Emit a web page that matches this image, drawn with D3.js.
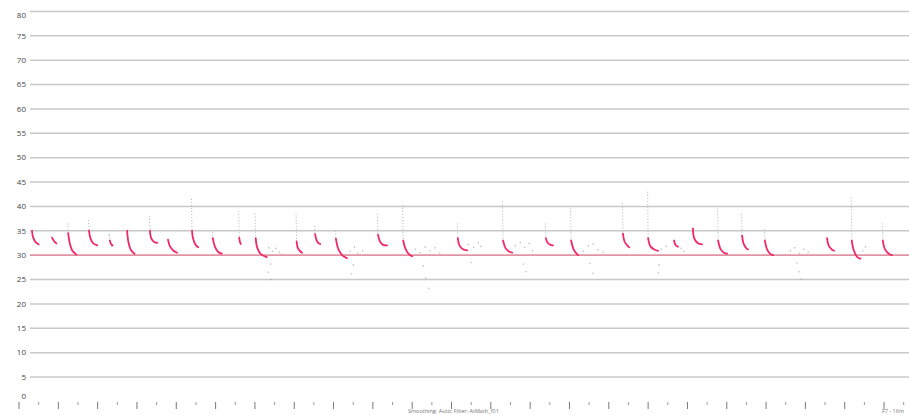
<!DOCTYPE html>
<html>
<head>
<meta charset="utf-8">
<script src="https://cdn.jsdelivr.net/npm/d3@7"></script>
<style>
  html, body { margin: 0; padding: 0; background: #fff; }
  svg { display: block; font-family: "Open Sans", "DejaVu Sans", sans-serif; }
</style>
</head>
<body>
<div id="container"></div>
<script>
// y ticks shown at the left edge
const yTicks = [0, 5, 10, 15, 20, 25, 30, 35, 40, 45, 50, 55, 60, 65, 70, 75, 80];

// reference level (red line)
const refLevel = 30;

// start of each burst on the time axis
const burstStart = [3.3, 8.4, 12.5, 17.8, 23.1, 27.5, 33.3, 37.9, 44.0, 49.3, 56.0, 60.2, 70.6, 75.3, 80.6, 91.3,
    97.7, 111.6, 123.1, 134.0, 140.4, 153.6, 160.0, 166.6, 171.4, 177.8, 183.9, 189.7, 205.5, 211.8, 219.7];

// faint grey tail above each burst (null = none)
const burstTop = [null, null, 36.5, 37.2, 34.2, null, 38.0, null, 41.5, 34.8, 39.0, 38.5, 38.5, 36.0, 35.0, 38.5,
    40.3, 36.5, 41.0, 36.5, 39.6, 40.6, 43.0, null, null, 39.6, 38.5, 35.3, null, 41.8, 36.5];

// red decay curves, one list of [time, value] per burst
const burstPoints = [
    [[3.3, 35.0], [3.6, 33.6], [4.3, 32.6], [5.0, 32.2]],
    [[8.4, 33.6], [8.9, 32.9], [9.5, 32.4]],
    [[12.5, 34.5], [12.9, 32.5], [13.5, 31.0], [14.6, 30.1]],
    [[17.8, 35.0], [18.2, 33.4], [18.9, 32.4], [19.9, 32.0]],
    [[23.1, 33.0], [23.4, 32.3], [23.8, 32.0]],
    [[27.5, 35.0], [27.8, 32.8], [28.5, 31.0], [29.4, 30.3]],
    [[33.3, 35.0], [33.6, 33.5], [34.4, 32.7], [35.2, 32.5]],
    [[37.9, 33.2], [38.4, 31.8], [39.3, 30.9], [40.2, 30.5]],
    [[44.0, 35.0], [44.3, 33.3], [45.0, 32.0], [45.6, 31.6]],
    [[49.3, 33.5], [49.8, 31.8], [50.6, 30.7], [51.6, 30.3]],
    [[56.0, 33.6], [56.2, 32.7], [56.4, 32.3]],
    [[60.2, 33.5], [60.6, 31.5], [61.5, 30.2], [63.0, 29.6]],
    [[70.6, 32.8], [70.9, 31.5], [71.5, 30.8], [72.0, 30.5]],
    [[75.3, 34.3], [75.7, 33.0], [76.3, 32.4], [76.6, 32.3]],
    [[80.6, 33.4], [81.2, 31.3], [82.3, 29.9], [83.4, 29.4]],
    [[91.3, 34.2], [91.8, 32.8], [92.6, 32.1], [93.6, 32.0]],
    [[97.7, 33.0], [98.3, 31.3], [99.3, 30.1], [100.0, 29.8]],
    [[111.6, 33.5], [112.0, 32.0], [112.9, 31.2], [114.0, 31.0]],
    [[123.1, 33.0], [123.7, 31.5], [124.5, 30.8], [125.4, 30.5]],
    [[134.0, 33.5], [134.4, 32.6], [135.2, 32.1], [135.8, 32.0]],
    [[140.4, 33.0], [141.0, 31.3], [141.8, 30.3], [142.2, 30.0]],
    [[153.6, 34.4], [154.0, 32.8], [154.8, 31.9], [155.2, 31.6]],
    [[160.0, 33.5], [160.6, 31.8], [161.7, 31.1], [162.5, 30.9]],
    [[166.6, 33.0], [166.9, 32.2], [167.6, 31.7]],
    [[171.4, 35.5], [171.7, 33.5], [172.6, 32.5], [173.7, 32.2]],
    [[177.8, 33.0], [178.4, 31.3], [179.3, 30.5], [180.1, 30.3]],
    [[183.9, 34.0], [184.3, 32.3], [185.0, 31.4], [185.4, 31.2]],
    [[189.7, 33.0], [190.2, 31.3], [191.0, 30.3], [191.8, 30.0]],
    [[205.5, 33.5], [205.9, 32.0], [206.8, 31.1], [207.3, 30.9]],
    [[211.8, 33.0], [212.3, 31.0], [213.2, 29.6], [214.0, 29.3]],
    [[219.7, 33.0], [220.2, 31.3], [221.2, 30.3], [222.0, 30.0]]
];

// faint grey scatter left after some bursts
const scatterPoints = [
    [22.9, 34.2], [23.6, 31.8],
    [63.5, 31.5], [64.5, 30.8], [65.3, 31.4], [66.2, 30.6], [64.0, 28.2], [63.4, 26.5], [64.1, 25.0], [66.8, 30.2],
    [84.2, 30.8], [85.3, 31.6], [86.2, 30.4], [87.4, 30.9], [85.0, 28.0], [84.6, 26.2],
    [100.8, 31.2], [102.0, 30.5], [103.3, 31.6], [104.5, 30.9], [105.8, 31.5], [107.0, 30.4], [102.8, 27.8], [103.4, 25.3], [104.2, 23.2],
    [114.3, 32.2], [115.6, 31.6], [116.8, 32.5], [117.5, 31.8], [115.0, 28.5],
    [126.2, 31.9], [127.5, 32.6], [128.6, 31.6], [129.7, 32.4], [130.6, 30.9], [128.3, 28.2], [128.9, 26.6],
    [143.5, 30.8], [144.8, 31.9], [146.0, 32.3], [147.2, 31.1], [148.6, 30.6], [145.2, 28.3], [146.0, 26.3],
    [163.4, 31.2], [164.6, 31.8], [162.8, 28.0], [162.6, 26.4], [168.4, 31.4], [169.1, 30.8],
    [196.2, 30.9], [197.3, 31.5], [198.5, 30.4], [199.6, 31.2], [200.7, 30.6], [197.8, 28.4], [198.4, 26.6], [199.0, 25.1],
    [214.6, 30.9], [215.3, 31.7]
];

// bottom axis ticks (major every 10, minor every 5)
const xMajorTicks = d3.range(0, 230, 10);
const xMinorTicks = d3.range(5, 230, 10);

const footerText = "Smoothing: Auto; Filter: AtMath_f01";
const cornerText = "F7 - 16m";

const width = 909;
const height = 415;

const scaleX = d3.scaleLinear().domain([0, 230]).range([19, 19 + 230 * 3.932]);
// 80 at the top, 0 at the bottom
const scaleY = d3.scaleLinear().domain([0, 80]).range([401.4, 11.4]);

const svg = d3.select("#container")
    .append("svg")
    .attr("width", width)
    .attr("height", height);

// gridlines
svg.append("g")
    .selectAll("line")
    .data(yTicks.filter(d => d > 0))
    .join("line")
    .attr("x1", 30)
    .attr("x2", width)
    .attr("y1", d => scaleY(d))
    .attr("y2", d => scaleY(d))
    .attr("stroke", "#c8c8c8")
    .attr("stroke-width", 1.5);

// y labels, clamped inside the picture at both ends
svg.append("g")
    .selectAll("text")
    .data(yTicks)
    .join("text")
    .attr("x", 26)
    .attr("y", d => Math.min(Math.max(scaleY(d), 15), 396))
    .attr("dy", "0.35em")
    .attr("text-anchor", "end")
    .attr("font-size", 8)
    .attr("fill", "#444")
    .text(d => d);

// reference line
svg.append("line")
    .attr("x1", 30)
    .attr("x2", width)
    .attr("y1", scaleY(refLevel))
    .attr("y2", scaleY(refLevel))
    .attr("stroke", "#ec8096")
    .attr("stroke-width", 1.4);

// grey tails above the bursts
svg.append("g")
    .selectAll("line")
    .data(burstStart.map((x, i) => ({x: x, top: burstTop[i], start: burstPoints[i][0][1]})).filter(d => d.top !== null))
    .join("line")
    .attr("x1", d => scaleX(d.x) - 0.5)
    .attr("x2", d => scaleX(d.x))
    .attr("y1", d => scaleY(d.top))
    .attr("y2", d => scaleY(d.start))
    .attr("stroke", "#b4b4b4")
    .attr("stroke-width", 1)
    .attr("stroke-dasharray", "1,2");

// grey scatter
svg.append("g")
    .selectAll("circle")
    .data(scatterPoints)
    .join("circle")
    .attr("cx", d => scaleX(d[0]))
    .attr("cy", d => scaleY(d[1]))
    .attr("r", 0.8)
    .attr("fill", "#a0a0a0")
    .attr("opacity", 0.7);

// red decay curves
const line = d3.line()
    .x(d => scaleX(d[0]))
    .y(d => scaleY(d[1]))
    .curve(d3.curveCatmullRom);

svg.append("g")
    .selectAll("path")
    .data(burstPoints)
    .join("path")
    .attr("d", line)
    .attr("fill", "none")
    .attr("stroke", "#f0286a")
    .attr("stroke-width", 1.8)
    .attr("stroke-linecap", "round");

// bottom ticks
const ticks = svg.append("g");
ticks.selectAll("line.major")
    .data(xMajorTicks)
    .join("line")
    .attr("class", "major")
    .attr("x1", d => scaleX(d))
    .attr("x2", d => scaleX(d))
    .attr("y1", 402)
    .attr("y2", 409)
    .attr("stroke", "#777")
    .attr("stroke-width", 1);
ticks.selectAll("line.minor")
    .data(xMinorTicks)
    .join("line")
    .attr("class", "minor")
    .attr("x1", d => scaleX(d))
    .attr("x2", d => scaleX(d))
    .attr("y1", 402)
    .attr("y2", 405)
    .attr("stroke", "#999")
    .attr("stroke-width", 1);

svg.append("text")
    .attr("x", 408)
    .attr("y", 413)
    .attr("font-size", 5.5)
    .attr("fill", "#777")
    .text(footerText);

svg.append("text")
    .attr("x", 882)
    .attr("y", 413)
    .attr("font-size", 5.5)
    .attr("fill", "#777")
    .text(cornerText);
</script>
</body>
</html>
